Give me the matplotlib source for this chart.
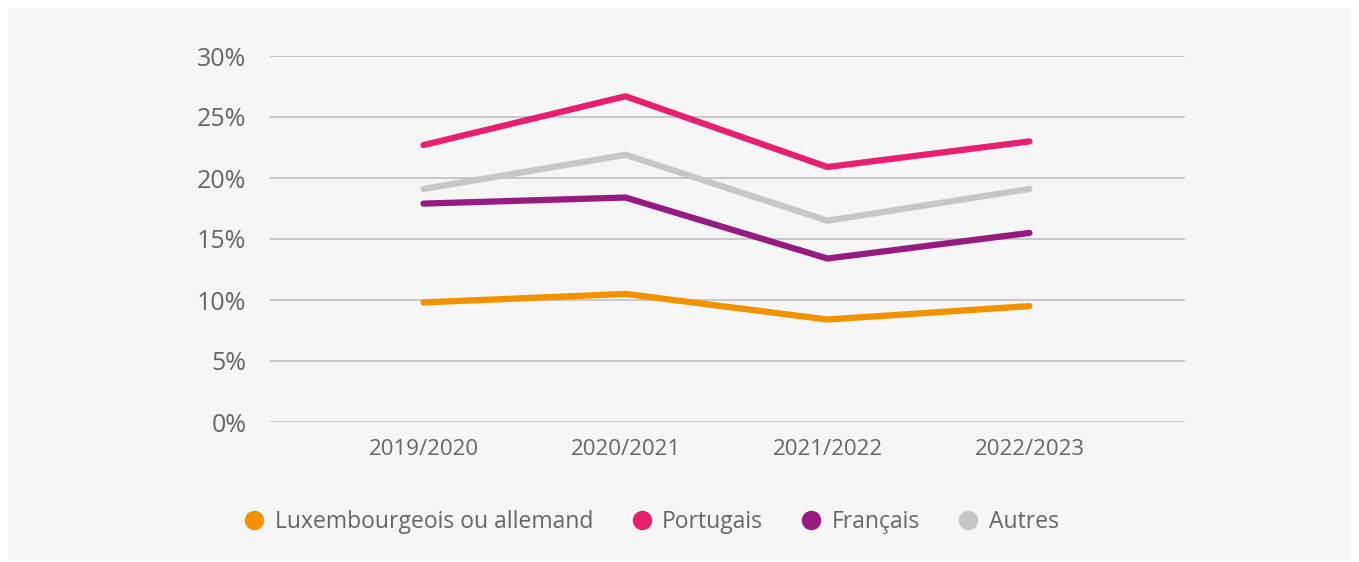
import matplotlib.pyplot as plt
import matplotlib.patches as mpatches
from matplotlib.lines import Line2D
from matplotlib.ticker import FuncFormatter

years = ["2019/2020", "2020/2021", "2021/2022", "2022/2023"]
lux_all = [9.8, 10.5, 8.4, 9.5]
portugais = [22.7, 26.7, 20.9, 23.0]
francais = [17.9, 18.4, 13.4, 15.5]
autres = [19.1, 21.9, 16.5, 19.1]

labels = ["Luxembourgeois ou allemand", "Portugais", "Français", "Autres"]
colors = ["#f39200", "#e6206f", "#951b81", "#c6c6c6"]
series = [lux_all, portugais, francais, autres]

plt.rcParams['font.family'] = ['Open Sans', 'DejaVu Sans']
txt = "#666666"
bg = "#f5f5f5"

fig = plt.figure(figsize=(13.59, 5.62), dpi=100)
fig.patch.set_facecolor("white")
fig.patches.append(mpatches.Rectangle((8 / 1359, 2 / 562), 1343 / 1359, 552 / 562,
                                      transform=fig.transFigure, facecolor=bg,
                                      edgecolor="none", zorder=-10))
ax = fig.add_axes([270 / 1359, 1 - 422 / 562, 915 / 1359, 366 / 562])
ax.set_facecolor(bg)

x = list(range(len(years)))
# draw back to front so grey sits behind pink
for i in [3, 2, 0, 1]:
    ax.plot(x, series[i], color=colors[i], lw=4.5, solid_capstyle="round", zorder=3)

ax.set_ylim(0, 30)
ax.set_xlim(-0.76, 3.77)
ax.set_yticks(range(0, 31, 5))
ax.yaxis.set_major_formatter(FuncFormatter(lambda v, p: f"{int(v)}%"))
ax.set_xticks(x)
ax.set_xticklabels(years)
ax.grid(axis="y", color="#c0c0c0", lw=1.2)
ax.set_axisbelow(True)
for s in ax.spines.values():
    s.set_visible(False)
ax.tick_params(axis="both", length=0, colors=txt)
ax.tick_params(axis="y", labelsize=18, pad=17)
ax.tick_params(axis="x", labelsize=16, pad=12)

handles = [Line2D([0], [0], marker="o", color="none", markerfacecolor=c,
                  markeredgecolor="none", markersize=14) for c in colors]
leg = fig.legend(handles, labels, loc="center", bbox_to_anchor=(651 / 1359, 1 - 522 / 562),
                 ncol=4, frameon=False, fontsize=16.5, handletextpad=0.4,
                 columnspacing=1.6, handlelength=1.0)
for t in leg.get_texts():
    t.set_color(txt)

plt.savefig("out.png", dpi=100, facecolor=fig.get_facecolor())
